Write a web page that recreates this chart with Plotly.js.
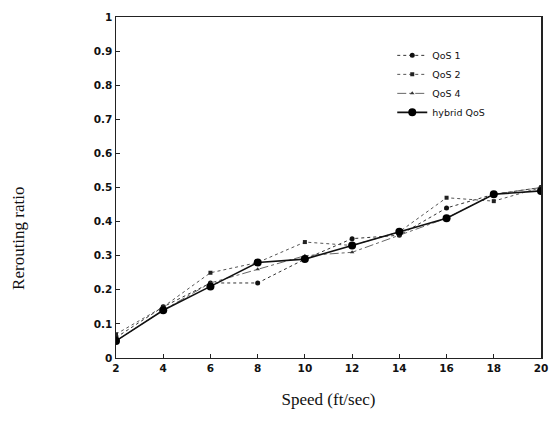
<!DOCTYPE html>
<html>
<head>
<meta charset="utf-8">
<script src="https://cdn.plot.ly/plotly-3.0.1.min.js"></script>
<style>html,body{margin:0;padding:0;background:#fff;}#chart{width:558px;height:423px;}</style>
</head>
<body>
<div id="chart"></div>
<script>
const speeds = [2, 4, 6, 8, 10, 12, 14, 16, 18, 20];
const qos1 = [0.06, 0.15, 0.22, 0.22, 0.29, 0.35, 0.36, 0.44, 0.48, 0.50];
const qos2 = [0.07, 0.15, 0.25, 0.28, 0.34, 0.33, 0.37, 0.47, 0.46, 0.50];
const qos4 = [0.05, 0.14, 0.22, 0.26, 0.30, 0.31, 0.36, 0.41, 0.48, 0.50];
const hybrid = [0.05, 0.14, 0.21, 0.28, 0.29, 0.33, 0.37, 0.41, 0.48, 0.49];
const seriesNames = ["QoS 1", "QoS 2", "QoS 4", "hybrid QoS"];
const xTicks = [2, 4, 6, 8, 10, 12, 14, 16, 18, 20];
const yTicks = [0, 0.1, 0.2, 0.3, 0.4, 0.5, 0.6, 0.7, 0.8, 0.9, 1];
const yTickText = ["0", "0.1", "0.2", "0.3", "0.4", "0.5", "0.6", "0.7", "0.8", "0.9", "1"];

const traces = [
  {x: speeds, y: qos1, name: seriesNames[0], mode: "lines+markers",
   line: {color: "#333", width: 1, dash: "dot"}, marker: {color: "#111", size: 5, symbol: "circle"}},
  {x: speeds, y: qos2, name: seriesNames[1], mode: "lines+markers",
   line: {color: "#555", width: 1, dash: "dot"}, marker: {color: "#222", size: 4, symbol: "square"}},
  {x: speeds, y: qos4, name: seriesNames[2], mode: "lines+markers",
   line: {color: "#666", width: 1, dash: "dashdot"}, marker: {color: "#333", size: 4, symbol: "triangle-up"}},
  {x: speeds, y: hybrid, name: seriesNames[3], mode: "lines+markers",
   line: {color: "#111", width: 1.6}, marker: {color: "#000", size: 8, symbol: "circle"}}
];

const tickFont = {family: "DejaVu Sans", size: 10.5, color: "#111", weight: "bold"};
const layout = {
  width: 558, height: 423,
  margin: {l: 116, r: 17, t: 17, b: 65},
  paper_bgcolor: "#fff", plot_bgcolor: "#fff",
  showlegend: true,
  legend: {x: 0.65, y: 0.93, xanchor: "left", yanchor: "top", bgcolor: "rgba(0,0,0,0)",
           font: {family: "DejaVu Sans", size: 9.5, color: "#111"}, tracegroupgap: 0, itemwidth: 30},
  xaxis: {range: [2, 20], tickvals: xTicks, ticks: "inside", ticklen: 4, tickcolor: "#222",
          showgrid: false, zeroline: false, showline: true, linecolor: "#222", linewidth: 1, mirror: true,
          tickfont: tickFont,
          title: {text: "Speed (ft/sec)", font: {family: "Liberation Serif", size: 17, color: "#111"}, standoff: 20}},
  yaxis: {range: [0, 1], tickvals: yTicks, ticktext: yTickText, ticks: "inside", ticklen: 4, tickcolor: "#222",
          showgrid: false, zeroline: false, showline: true, linecolor: "#222", linewidth: 1.5, mirror: true,
          tickfont: tickFont},
  annotations: [
    {text: "Rerouting ratio", xref: "paper", yref: "paper", x: -0.23, y: 0.35, xanchor: "center", yanchor: "middle",
     textangle: -90, showarrow: false, font: {family: "Liberation Serif", size: 17, color: "#111"}}
  ]
};

Plotly.newPlot("chart", traces, layout, {displayModeBar: false, staticPlot: true});
</script>
</body>
</html>
